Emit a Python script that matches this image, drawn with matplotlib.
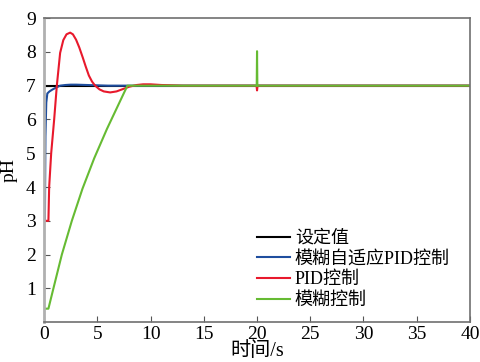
import matplotlib
matplotlib.use('Agg')
import matplotlib.pyplot as plt

plt.rcParams['font.family'] = ['Liberation Serif', 'Noto Sans CJK SC']

# setpoint
set_x = [0, 40]
set_y = [7, 7]

# fuzzy adaptive PID
fapid_x = [0.07, 0.12, 0.2, 0.3, 0.5, 0.8, 1.1, 1.5, 2.0, 2.5, 3.0, 4.0, 5.0, 6.0, 40]
fapid_y = [3.0, 5.5, 6.5, 6.77, 6.83, 6.89, 6.94, 7.0, 7.02, 7.03, 7.03, 7.02, 7.01, 7.0, 7.0]

# PID
pid_x = [0.07, 0.4, 0.47, 0.66, 0.94, 1.19, 1.5, 1.8, 2.1, 2.44, 2.7, 3.0,
         3.3, 3.63, 3.9, 4.2, 4.5, 4.79, 5.2, 5.6, 6.2, 6.8, 7.4, 8.0, 8.7, 9.3, 10.0, 11.0, 12.0, 13.0,
         19.95, 20.0, 20.05, 40]
pid_y = [3.0, 3.0, 4.0, 5.0, 6.0, 7.0, 7.97, 8.35, 8.52, 8.57, 8.52, 8.36,
         8.13, 7.83, 7.57, 7.3, 7.12, 7.0, 6.89, 6.83, 6.8, 6.83, 6.9, 6.97, 7.02, 7.04, 7.04, 7.02, 7.01, 7.0,
         7.0, 6.86, 7.0, 7.0]

# fuzzy control
fuzzy_x = [0.0, 0.4, 0.87, 1.66, 2.6, 3.6, 4.7, 5.9, 6.8, 7.82, 19.97, 20.0, 20.03, 40]
fuzzy_y = [0.4, 0.4, 1.0, 2.0, 3.0, 3.95, 4.85, 5.72, 6.32, 7.0, 7.0, 8.02, 7.0, 7.0]

fig = plt.figure(figsize=(4.8, 3.62), dpi=100)
ax = fig.add_axes([0.092, 0.11, 0.887, 0.84])

ax.plot(set_x, set_y, color='black', lw=1.5, label='设定值')
ax.plot(fapid_x, fapid_y, color='#1f4e9e', lw=1.5, label='模糊自适应PID控制')
ax.plot(pid_x, pid_y, color='#e8192c', lw=1.5, label='PID控制')
ax.plot(fuzzy_x, fuzzy_y, color='#66bb33', lw=1.5, label='模糊控制')

ax.set_xlim(0, 40)
ax.set_ylim(0, 9)
ax.set_xticks(range(0, 41, 5))
ax.set_yticks(range(1, 10))
ax.tick_params(direction='in', labelsize=14, length=4, color='#555555', pad=6)
ax.tick_params(axis='x', pad=3)

for side in ['top', 'right', 'bottom']:
    ax.spines[side].set_color('#707070')
    ax.spines[side].set_linewidth(1.2)
ax.spines['left'].set_color('#b0b0b0')
ax.spines['left'].set_linewidth(2)

ax.set_xlabel('时间/s', fontsize=14.5, labelpad=-1)
ax.set_ylabel('pH', fontsize=14, labelpad=6)

ax.legend(loc='lower right', bbox_to_anchor=(0.97, 0.02), frameon=False, fontsize=13,
          handlelength=1.8, handletextpad=0.3, labelspacing=0.2, borderaxespad=0)

fig.savefig('out.png', dpi=100)
